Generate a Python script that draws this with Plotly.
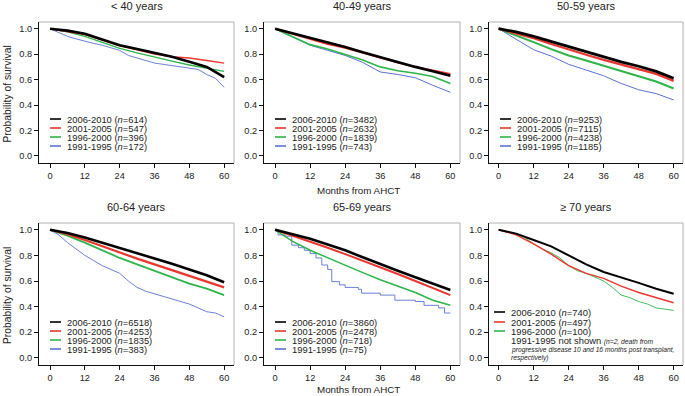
import plotly.graph_objects as go

W, H = 685, 396

# ---------------- data ----------------
months = [0, 6, 12, 18, 24, 30, 36, 42, 48, 54, 60]
months3 = [0, 3, 6, 9, 12, 15, 18, 21, 24, 27, 30, 33, 36, 39, 42, 45, 48, 51, 54, 57, 60]

panel_titles = ["< 40 years", "40-49 years", "50-59 years", "60-64 years", "65-69 years", "≥ 70 years"]
cohorts = ["2006-2010", "2001-2005", "1996-2000", "1991-1995"]

# < 40 years
lt40_2006 = [1.0, 0.985, 0.96, 0.915, 0.87, 0.84, 0.81, 0.78, 0.74, 0.70, 0.62]
lt40_2001 = [1.0, 0.98, 0.955, 0.91, 0.865, 0.835, 0.80, 0.78, 0.77, 0.75, 0.73]
lt40_1996 = [1.0, 0.975, 0.94, 0.89, 0.845, 0.81, 0.775, 0.745, 0.715, 0.69, 0.665]
lt40_1991 = [1.0, 0.97, 0.94, 0.92, 0.90, 0.885, 0.87, 0.85, 0.83, 0.79, 0.77, 0.75, 0.73, 0.72, 0.71, 0.70, 0.69, 0.68, 0.64, 0.61, 0.54]
lt40_n = [614, 547, 396, 172]

# 40-49 years
a40_2006 = [1.0, 0.965, 0.925, 0.89, 0.857, 0.815, 0.775, 0.74, 0.70, 0.665, 0.63]
a40_2001 = [1.0, 0.96, 0.915, 0.88, 0.85, 0.81, 0.77, 0.735, 0.70, 0.67, 0.645]
a40_1996 = [1.0, 0.935, 0.875, 0.84, 0.80, 0.755, 0.70, 0.67, 0.65, 0.625, 0.57]
a40_1991 = [1.0, 0.935, 0.87, 0.83, 0.79, 0.735, 0.66, 0.64, 0.615, 0.555, 0.50]
a40_n = [3482, 2632, 1839, 743]

# 50-59 years
a50_2006 = [1.0, 0.975, 0.94, 0.90, 0.855, 0.815, 0.775, 0.74, 0.705, 0.665, 0.61]
a50_2001 = [1.0, 0.965, 0.925, 0.88, 0.835, 0.795, 0.755, 0.72, 0.685, 0.645, 0.59]
a50_1996 = [1.0, 0.95, 0.895, 0.84, 0.79, 0.75, 0.71, 0.67, 0.63, 0.585, 0.53]
a50_1991 = [1.0, 0.92, 0.835, 0.785, 0.72, 0.675, 0.63, 0.57, 0.52, 0.49, 0.44]
a50_n = [9253, 7115, 4238, 1185]

# 60-64 years
a60_2006 = [1.0, 0.975, 0.94, 0.90, 0.86, 0.82, 0.78, 0.735, 0.69, 0.645, 0.59]
a60_2001 = [1.0, 0.965, 0.92, 0.87, 0.82, 0.775, 0.73, 0.685, 0.64, 0.60, 0.55]
a60_1996 = [1.0, 0.955, 0.90, 0.84, 0.78, 0.73, 0.68, 0.63, 0.58, 0.54, 0.49]
a60_1991 = [1.0, 0.96, 0.90, 0.85, 0.80, 0.76, 0.72, 0.69, 0.66, 0.60, 0.55, 0.52, 0.50, 0.48, 0.46, 0.44, 0.42, 0.39, 0.36, 0.35, 0.32]
a60_n = [6518, 4253, 1835, 383]

# 65-69 years
a65_2006 = [1.0, 0.965, 0.93, 0.885, 0.84, 0.785, 0.73, 0.68, 0.63, 0.58, 0.53]
a65_2001 = [1.0, 0.955, 0.91, 0.86, 0.81, 0.76, 0.71, 0.655, 0.60, 0.545, 0.49]
a65_1996 = [1.0, 0.91, 0.84, 0.78, 0.72, 0.665, 0.61, 0.56, 0.51, 0.45, 0.41]
a65_1991_t = [0, 1, 3.5, 5.7, 8, 10, 12, 14, 16, 18, 19.4, 22, 24, 28.5, 29.6, 36, 41, 48, 51, 56, 58, 60]
a65_1991 = [1.0, 0.96, 0.95, 0.88, 0.86, 0.84, 0.815, 0.78, 0.725, 0.69, 0.595, 0.57, 0.55, 0.535, 0.505, 0.49, 0.45, 0.44, 0.41, 0.39, 0.35, 0.35]
a65_n = [3860, 2478, 718, 75]

# >= 70 years
a70_2006 = [1.0, 0.97, 0.92, 0.87, 0.80, 0.73, 0.67, 0.63, 0.585, 0.54, 0.50]
a70_2001 = [1.0, 0.96, 0.89, 0.81, 0.72, 0.66, 0.62, 0.56, 0.51, 0.47, 0.43]
a70_1996 = [1.0, 0.98, 0.97, 0.94, 0.89, 0.85, 0.82, 0.78, 0.72, 0.68, 0.66, 0.63, 0.60, 0.55, 0.49, 0.47, 0.44, 0.42, 0.39, 0.38, 0.37]
a70_n = [740, 497, 100]

x_ticks = [0, 12, 24, 36, 48, 60]
y_ticks = [0.0, 0.2, 0.4, 0.6, 0.8, 1.0]

# ---------------- styling ----------------
COLORS = ["#000000", "#e8372f", "#2fb44a", "#5b72d2"]
FONT = "Liberation Sans, Arial, sans-serif"
TXT = "#222222"
LEG_SIZE = 9.4
NOTE_SIZE = 6.7


def px(x):
    return x / W


def py(y):
    return 1 - y / H


# panel boxes in pixels: (left, right, top, bottom)
cols = [(39, 234), (264, 460), (489, 683)]
rows = [(22, 163), (223, 365)]
xranges = [[-3.8, 63.4], [-3.8, 63.3], [-3.3, 63.2]]
yrange = [-0.056, 1.053]

panels = [
    [(months, lt40_2006, "linear", 2.6), (months, lt40_2001, "linear", 1.4), (months, lt40_1996, "linear", 1.4), (months3, lt40_1991, "linear", 0.9)],
    [(months, a40_2006, "linear", 2.6), (months, a40_2001, "linear", 2.0), (months, a40_1996, "linear", 1.6), (months, a40_1991, "linear", 1.0)],
    [(months, a50_2006, "linear", 2.8), (months, a50_2001, "linear", 2.2), (months, a50_1996, "linear", 2.0), (months, a50_1991, "linear", 1.0)],
    [(months, a60_2006, "linear", 2.6), (months, a60_2001, "linear", 2.2), (months, a60_1996, "linear", 1.8), (months3, a60_1991, "linear", 0.9)],
    [(months, a65_2006, "linear", 2.6), (months, a65_2001, "linear", 2.0), (months, a65_1996, "linear", 1.5), (a65_1991_t, a65_1991, "hv", 0.9)],
    [(months, a70_2006, "linear", 2.0), (months, a70_2001, "linear", 1.4), (months3, a70_1996, "linear", 0.9)],
]
ns = [lt40_n, a40_n, a50_n, a60_n, a65_n, a70_n]

fig = go.Figure()
layout = dict(
    width=W, height=H,
    margin=dict(l=0, r=0, t=0, b=0),
    paper_bgcolor="white", plot_bgcolor="white",
    showlegend=False,
    font=dict(family=FONT, color=TXT, size=9),
)
annotations = []
shapes = []

legend_rows_top = [119, 128, 137, 146]
legend_rows_bot = [322, 331, 340, 349]
legend_rows_70 = [312, 322, 331]

for i in range(6):
    r, c = divmod(i, 3)
    k = "" if i == 0 else str(i + 1)
    xa, ya = "x" + k, "y" + k
    l, rr = cols[c]
    t, b = rows[r]
    layout["xaxis" + k] = dict(
        domain=[px(l), px(rr)], range=xranges[c], anchor=ya,
        tickvals=x_ticks, ticks="outside", ticklen=4, tickwidth=1, tickcolor="#111",
        showline=True, linecolor="#111", linewidth=1.2, showgrid=False, zeroline=False,
        tickfont=dict(size=9.2, color=TXT, family=FONT),
    )
    layout["yaxis" + k] = dict(
        domain=[py(b), py(t)], range=yrange, anchor=xa,
        tickvals=y_ticks, tickformat=".1f", ticks="outside", ticklen=4, tickwidth=1, tickcolor="#111",
        showline=True, linecolor="#111", linewidth=1.2, showgrid=False, zeroline=False,
        tickfont=dict(size=9.2, color=TXT, family=FONT),
    )
    # gray top/right frame
    shapes.append(dict(type="line", xref=xa + " domain", yref=ya + " domain", x0=0, x1=1, y0=1, y1=1,
                       line=dict(color="#b0b0b0", width=1)))
    shapes.append(dict(type="line", xref=xa + " domain", yref=ya + " domain", x0=1, x1=1, y0=0, y1=1,
                       line=dict(color="#b0b0b0", width=1)))
    # title
    annotations.append(dict(text=panel_titles[i], x=px((l + rr) / 2), y=py(t - 16), xref="paper", yref="paper",
                            showarrow=False, font=dict(size=11, color=TXT, family=FONT),
                            xanchor="center", yanchor="middle"))
    # curves (draw oldest first)
    series = panels[i]
    for j in reversed(range(len(series))):
        xs, ys, shape, wd = series[j]
        fig.add_trace(go.Scatter(x=xs, y=ys, mode="lines", xaxis=xa, yaxis=ya,
                                 line=dict(color=COLORS[j], width=wd, shape=shape),
                                 hoverinfo="skip"))
    # legend
    if i == 5:
        lx0, lx1, tx = 494, 505, 509
        ys_leg = legend_rows_70
    else:
        lx0, lx1, tx = l + 11, l + 22, l + 26
        ys_leg = legend_rows_top if r == 0 else legend_rows_bot
    for j, n in enumerate(ns[i]):
        yy = ys_leg[j]
        shapes.append(dict(type="line", xref="paper", yref="paper", x0=px(lx0), x1=px(lx1), y0=py(yy), y1=py(yy),
                           line=dict(color=COLORS[j], width=1.6)))
        annotations.append(dict(text=f"{cohorts[j]} (<i>n</i>={n})", x=px(tx), y=py(yy), xref="paper", yref="paper",
                                showarrow=False, xanchor="left", yanchor="middle",
                                font=dict(size=LEG_SIZE, color=TXT, family=FONT)))

# >=70 note
annotations.append(dict(text=f"1991-1995 not shown <i><span style='font-size:{NOTE_SIZE}px'>(n=2, death from</span></i>",
                        x=px(509), y=py(340.5), xref="paper", yref="paper", showarrow=False,
                        xanchor="left", yanchor="middle", font=dict(size=LEG_SIZE, color=TXT, family=FONT)))
annotations.append(dict(text="<i>progressive disease 10 and 16 months post transplant,</i>",
                        x=px(509), y=py(349.5), xref="paper", yref="paper", showarrow=False,
                        xanchor="left", yanchor="middle", font=dict(size=NOTE_SIZE, color=TXT, family=FONT)))
annotations.append(dict(text="<i>respectively)</i>",
                        x=px(509), y=py(357.5), xref="paper", yref="paper", showarrow=False,
                        xanchor="left", yanchor="middle", font=dict(size=NOTE_SIZE, color=TXT, family=FONT)))

# axis titles
for (t, b) in rows:
    annotations.append(dict(text="Probability of survival", x=px(7), y=py((t + b) / 2 + 2), xref="paper", yref="paper",
                            showarrow=False, textangle=-90, xanchor="center", yanchor="middle",
                            font=dict(size=10.3, color=TXT, family=FONT)))
annotations.append(dict(text="Months from AHCT", x=px(358), y=py(191), xref="paper", yref="paper",
                        showarrow=False, xanchor="center", yanchor="middle",
                        font=dict(size=9.8, color=TXT, family=FONT)))
annotations.append(dict(text="Months from AHCT", x=px(358), y=py(389), xref="paper", yref="paper",
                        showarrow=False, xanchor="center", yanchor="middle",
                        font=dict(size=9.8, color=TXT, family=FONT)))

layout["annotations"] = annotations
layout["shapes"] = shapes
fig.update_layout(**layout)
fig.write_html("out.html", config={"displayModeBar": False},
               post_script="document.body.style.margin='0px';document.body.style.padding='0px';")
